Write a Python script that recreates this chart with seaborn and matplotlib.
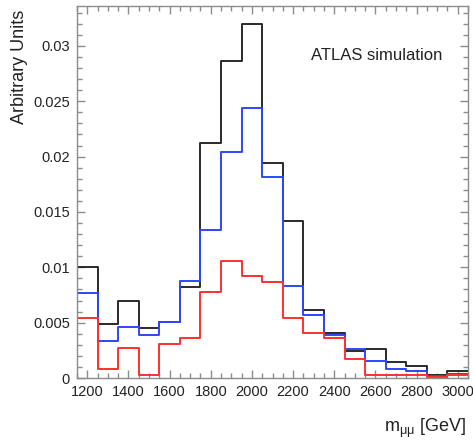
import numpy as np
import pandas as pd
import matplotlib
matplotlib.use("Agg")
import matplotlib.pyplot as plt
from matplotlib.ticker import MultipleLocator
import seaborn as sns

# ---- data ----
bin_edges = [1150, 1250, 1350, 1450, 1550, 1650, 1750, 1850, 1950, 2050,
             2150, 2250, 2350, 2450, 2550, 2650, 2750, 2850, 2950, 3050]
black_vals = [0.0100, 0.0049, 0.0070, 0.0045, 0.0051, 0.0082, 0.0212, 0.0286, 0.0320, 0.0194,
              0.0142, 0.0061, 0.0041, 0.0024, 0.0026, 0.00145, 0.0011, 0.0003, 0.0006]
blue_vals = [0.0077, 0.0033, 0.0046, 0.0039, 0.0051, 0.0088, 0.0134, 0.0204, 0.0244, 0.0182,
             0.0083, 0.0057, 0.0039, 0.0026, 0.0015, 0.0008, 0.0006, 0.0002, 0.0004]
red_vals = [0.0054, 0.0008, 0.0027, 0.0003, 0.0031, 0.0036, 0.0078, 0.0106, 0.0092, 0.0087,
            0.0054, 0.0041, 0.0036, 0.0017, 0.0003, 0.0003, 0.0003, 0.0001, 0.0003]
x_ticks = [1200, 1400, 1600, 1800, 2000, 2200, 2400, 2600, 2800, 3000]
y_ticks = [0, 0.005, 0.01, 0.015, 0.02, 0.025, 0.03]
y_tick_labels = ["0", "0.005", "0.01", "0.015", "0.02", "0.025", "0.03"]

centers = [(a + b) / 2 for a, b in zip(bin_edges[:-1], bin_edges[1:])]
df = pd.DataFrame({
    "mass": centers * 3,
    "weight": black_vals + blue_vals + red_vals,
    "series": ["black"] * len(centers) + ["blue"] * len(centers) + ["red"] * len(centers),
})

sns.set_theme(style="white")
plt.rcParams["font.family"] = ["Liberation Sans", "DejaVu Sans"]
plt.rcParams["mathtext.fontset"] = "custom"
plt.rcParams["mathtext.rm"] = "Liberation Sans"
plt.rcParams["mathtext.it"] = "Liberation Sans:italic"

fig = plt.figure(figsize=(4.73, 4.46), dpi=100)
ax = fig.add_axes([77 / 473, 1 - 378 / 446, (468 - 77) / 473, (378 - 6) / 446])

colors = {"black": "#2a2a2a", "blue": "#2f45ff", "red": "#ff3030"}
for s in ["black", "blue", "red"]:
    sns.histplot(data=df[df["series"] == s], x="mass", weights="weight",
                 bins=bin_edges, element="step", fill=False,
                 color=colors[s], linewidth=1.4, ax=ax)

ax.set_xlim(1150, 3050)
ax.set_ylim(0, 0.0336)
ax.set_xticks(x_ticks)
ax.set_xticklabels([str(t) for t in x_ticks])
ax.xaxis.set_minor_locator(MultipleLocator(50))
ax.set_yticks(y_ticks)
ax.set_yticklabels(y_tick_labels)
ax.yaxis.set_minor_locator(MultipleLocator(0.001))

frame_col = "#8c8c8c"
for sp in ax.spines.values():
    sp.set_color(frame_col)
    sp.set_linewidth(1.0)
ax.tick_params(which="both", direction="in", top=True, right=True,
               bottom=True, left=True, color=frame_col, width=1.0,
               labelsize=10.5, labelcolor="#222222")
ax.tick_params(which="major", length=6, pad=5)
ax.tick_params(which="minor", length=3.5)

ax.set_ylabel("Arbitrary Units", fontsize=13, color="#222222", loc="top")
ax.yaxis.set_label_coords(-0.125, 0.99)
ax.set_xlabel(r"m$_{\mathregular{\mu\mu}}$ [GeV]", fontsize=13, color="#222222", loc="right")
ax.xaxis.set_label_coords(0.995, -0.105)
ax.xaxis.label.set_va("top")

ax.text(0.767, 0.868, "ATLAS simulation", transform=ax.transAxes,
        ha="center", va="center", fontsize=12, color="#222222")

fig.savefig("out.png", dpi=100)
